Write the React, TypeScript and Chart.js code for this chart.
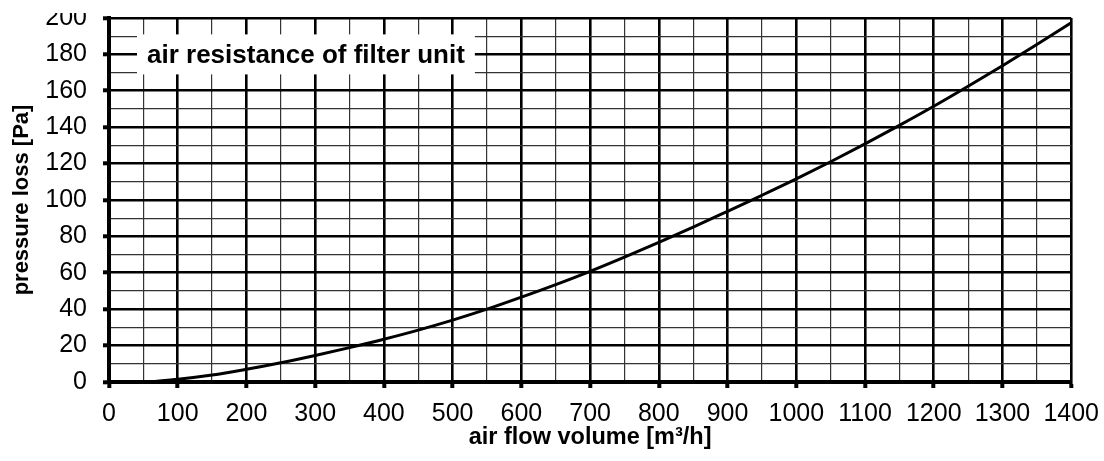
import React, { useEffect, useRef } from 'react';
import { Chart, registerables } from 'chart.js';

Chart.register(...registerables);

// ---- data ----
const flowVolume = [
  0, 50, 100, 150, 200, 250, 300, 350, 400, 450, 500, 550, 600, 650, 700,
  750, 800, 850, 900, 950, 1000, 1050, 1100, 1150, 1200, 1250, 1300, 1350, 1400,
];
const pressureLoss = [
  0, 0, 1.5, 3.8, 7.0, 10.6, 14.6, 18.9, 23.5, 28.5, 34.0, 40.0, 46.6, 53.5, 60.8,
  68.6, 76.7, 85.1, 93.8, 102.6, 111.6, 121.0, 130.8, 141.0, 151.5, 162.5, 173.8, 185.4, 197.4,
];
const seriesLabel = 'air resistance of filter unit';
const xTitle = 'air flow volume [m³/h]';
const yTitle = 'pressure loss [Pa]';
const xRange = [0, 1400];
const xSteps = [50, 100]; // minor, major
const yRange = [0, 200];
const ySteps = [10, 20]; // minor, major

const FONT = '"Liberation Sans", Arial, Helvetica, sans-serif';

const legendBoxPlugin = {
  id: 'legendBox',
  afterDraw(chart: any) {
    const { ctx, chartArea, scales } = chart;
    const yc = scales.y.getPixelForValue(180);
    const text = chart.data.datasets[0].label;
    ctx.save();
    ctx.font = `bold 26px ${FONT}`;
    const tw = ctx.measureText(text).width;
    const x0 = chartArea.left + 28;
    ctx.fillStyle = '#ffffff';
    ctx.fillRect(x0, yc - 20, tw + 20, 40);
    ctx.fillStyle = '#000000';
    ctx.textBaseline = 'middle';
    ctx.textAlign = 'left';
    ctx.fillText(text, x0 + 10, yc + 1);
    ctx.restore();
  },
};

function gridOpts(major: number) {
  const isMajor = (ctx: any) => ctx.tick && Math.abs(ctx.tick.value % major) < 1e-6;
  return {
    display: true,
    drawOnChartArea: true,
    drawTicks: true,
    tickLength: 6,
    color: (ctx: any) => (isMajor(ctx) ? '#000000' : '#333333'),
    lineWidth: (ctx: any) => (isMajor(ctx) ? 2.6 : 1.2),
    tickColor: (ctx: any) => (isMajor(ctx) ? '#000000' : 'rgba(0,0,0,0)'),
    tickWidth: (ctx: any) => (isMajor(ctx) ? 4 : 0),
  };
}

export default function App() {
  const canvasRef = useRef<HTMLCanvasElement | null>(null);

  useEffect(() => {
    if (!canvasRef.current) return;
    const chart = new Chart(canvasRef.current, {
      type: 'line',
      data: {
        datasets: [
          {
            label: seriesLabel,
            data: flowVolume.map((x, i) => ({ x, y: pressureLoss[i] })),
            borderColor: '#000000',
            borderWidth: 3,
            pointRadius: 0,
            fill: false,
            cubicInterpolationMode: 'monotone',
            tension: 0.4,
          },
        ],
      },
      options: {
        animation: false,
        responsive: false,
        devicePixelRatio: 1,
        layout: { padding: { top: 20, right: 33, left: 0, bottom: 0 } },
        plugins: {
          legend: { display: false },
          tooltip: { enabled: false },
        },
        scales: {
          x: {
            type: 'linear',
            min: xRange[0],
            max: xRange[1],
            afterFit: (scale: any) => {
              scale.height = 79;
            },
            ticks: {
              stepSize: xSteps[0],
              autoSkip: false,
              maxRotation: 0,
              minRotation: 0,
              padding: 11,
              color: '#000000',
              font: { family: FONT, size: 25 },
              callback: (v: any) => (Number(v) % xSteps[1] === 0 ? String(v) : ''),
            },
            grid: gridOpts(xSteps[1]),
            border: { display: true, color: '#000000', width: 4 },
            title: {
              display: true,
              text: xTitle,
              color: '#000000',
              font: { family: FONT, size: 23.5, weight: 'bold' },
              padding: { top: 0, bottom: 9 },
            },
          },
          y: {
            type: 'linear',
            min: yRange[0],
            max: yRange[1],
            afterFit: (scale: any) => {
              scale.width = 109;
            },
            ticks: {
              stepSize: ySteps[0],
              autoSkip: false,
              padding: 16,
              color: '#000000',
              font: { family: FONT, size: 25 },
              callback: (v: any) => (Number(v) % ySteps[1] === 0 ? String(v) : ''),
            },
            grid: gridOpts(ySteps[1]),
            border: { display: true, color: '#000000', width: 4 },
            title: {
              display: true,
              text: yTitle,
              color: '#000000',
              font: { family: FONT, size: 22, weight: 'bold' },
              padding: { top: 9, bottom: 0 },
            },
          },
        },
      } as any,
      plugins: [legendBoxPlugin],
    });
    return () => chart.destroy();
  }, []);

  return (
    <div style={{ position: 'absolute', left: 0, top: 0, width: 1104, height: 461, background: '#ffffff', overflow: 'hidden' }}>
      <div style={{ position: 'absolute', left: 0, top: 13, width: 1104, height: 448, overflow: 'hidden' }}>
        <canvas
          ref={canvasRef}
          width={1110}
          height={474}
          style={{ position: 'absolute', left: 0, top: -26, width: 1110, height: 474 }}
        />
      </div>
    </div>
  );
}
